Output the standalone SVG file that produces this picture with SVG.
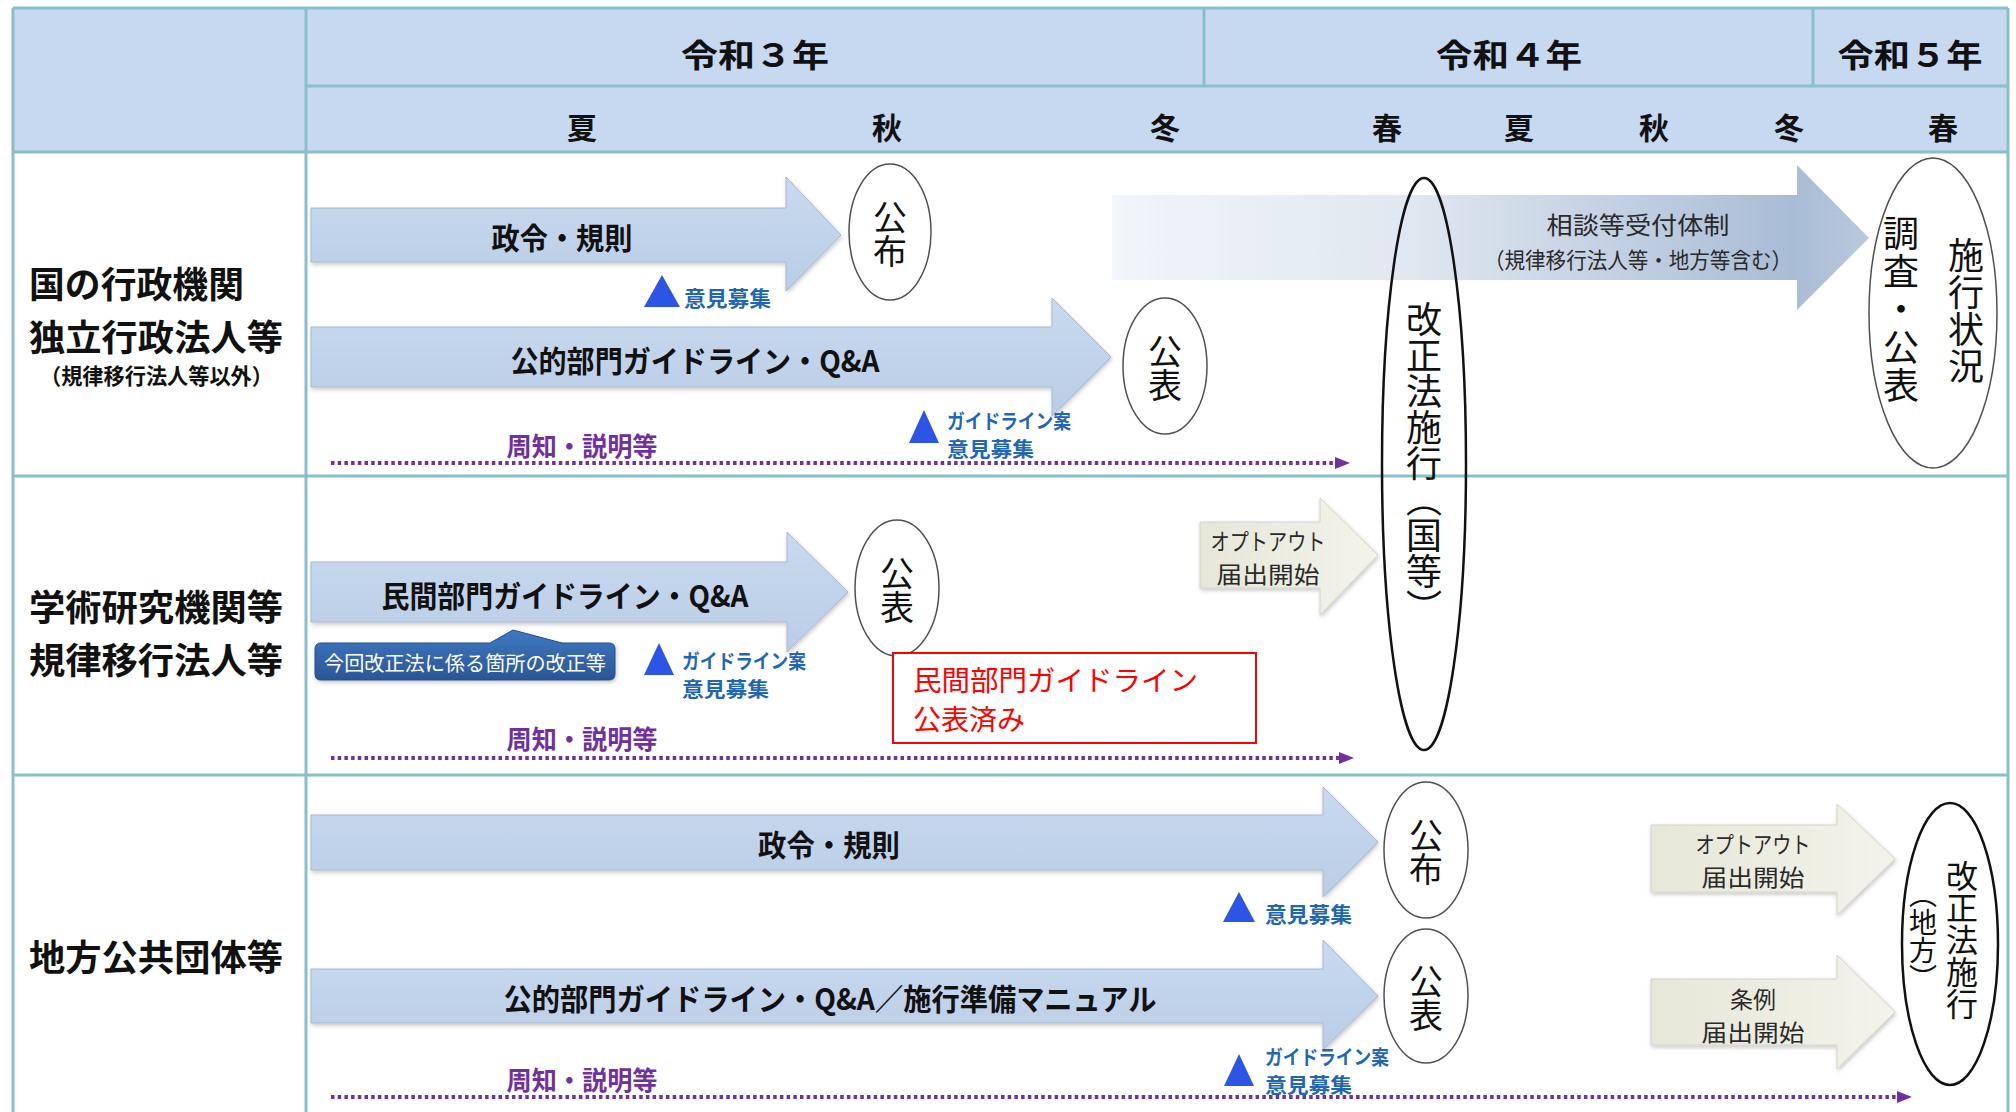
<svg xmlns="http://www.w3.org/2000/svg" width="2016" height="1112" viewBox="0 0 2016 1112">
<defs>
  <linearGradient id="gBlue" x1="0" y1="0" x2="0" y2="1">
    <stop offset="0" stop-color="#c9daef"/>
    <stop offset="1" stop-color="#b9cde6"/>
  </linearGradient>
  <linearGradient id="gBeige" x1="0" y1="0" x2="1" y2="0">
    <stop offset="0" stop-color="#e6e7d8"/>
    <stop offset="1" stop-color="#f3f3ea"/>
  </linearGradient>
  <linearGradient id="gFade" gradientUnits="userSpaceOnUse" x1="1112" y1="0" x2="1869" y2="0">
    <stop offset="0" stop-color="#f2f5fa"/>
    <stop offset="0.4" stop-color="#dfe7f0"/>
    <stop offset="0.9" stop-color="#a9bcd6"/>
    <stop offset="1" stop-color="#b9c9dd"/>
  </linearGradient>
  <linearGradient id="gCall" x1="0" y1="0" x2="0" y2="1">
    <stop offset="0" stop-color="#4079c2"/>
    <stop offset="1" stop-color="#2a5695"/>
  </linearGradient>
  <filter id="sh" x="-5%" y="-20%" width="110%" height="150%">
    <feDropShadow dx="1" dy="2" stdDeviation="2" flood-color="#000" flood-opacity="0.22"/>
  </filter>
  <marker id="mArr" markerUnits="userSpaceOnUse" markerWidth="16" markerHeight="14" refX="1" refY="7" orient="auto">
    <path d="M0,1 L15,7 L0,13 Z" fill="#7030a0"/>
  </marker>
</defs>
<style>
  text { font-family: "Noto Sans CJK JP", "Noto Sans CJK SC", sans-serif; }
  .gl { stroke: #88bfcd; stroke-width: 3; fill: none; }
  .hd { font-size: 32px; font-weight: 700; fill: #111; text-anchor: middle; dominant-baseline: central; }
  .ss { font-size: 30px; font-weight: 700; fill: #111; text-anchor: middle; dominant-baseline: central; }
  .lbl { font-size: 36px; font-weight: 700; fill: #111; dominant-baseline: central; }
  .lbs { font-size: 22px; font-weight: 700; fill: #111; dominant-baseline: central; }
  .al { font-size: 30px; font-weight: 700; fill: #111; text-anchor: middle; dominant-baseline: central; }
  .op { font-size: 21px; font-weight: 700; fill: #1f66b3; dominant-baseline: central; }
  .op2 { font-size: 20px; font-weight: 700; fill: #1f66b3; dominant-baseline: central; }
  .pur { font-size: 26px; font-weight: 700; fill: #7030a0; text-anchor: middle; dominant-baseline: central; }
  .vt { writing-mode: vertical-rl; font-size: 36px; font-weight: 400; fill: #111; text-anchor: middle; }
  .bt { font-size: 23px; fill: #2a2a2a; text-anchor: middle; dominant-baseline: central; }
  .ell { fill: #fff; stroke: #505050; stroke-width: 1.5; }
  .ellb { fill: none; stroke: #111; stroke-width: 2.5; }
  .ba { fill: url(#gBlue); stroke: #a8b8cb; stroke-width: 1; filter: url(#sh); }
  .be { fill: url(#gBeige); stroke: #d3d4c4; stroke-width: 1; filter: url(#sh); }
  .tri { fill: #2c55e6; }
  .dot { fill: none; stroke: #7030a0; stroke-width: 4; stroke-dasharray: 3.5 3.2; }
</style>

<g id="table">
  <rect x="13" y="8" width="1995" height="144" fill="#c6d9f1"/>
  <rect x="13" y="152" width="1995" height="960" fill="#ffffff"/>
  <line class="gl" x1="13" y1="8" x2="2008" y2="8"/>
  <line class="gl" x1="306" y1="86" x2="2008" y2="86"/>
  <line class="gl" x1="13" y1="152" x2="2008" y2="152"/>
  <line class="gl" x1="13" y1="476" x2="2008" y2="476"/>
  <line class="gl" x1="13" y1="775" x2="2008" y2="775"/>
  <line class="gl" x1="13" y1="8" x2="13" y2="1112"/>
  <line class="gl" x1="306" y1="8" x2="306" y2="1112"/>
  <line class="gl" x1="2008" y1="8" x2="2008" y2="1112"/>
  <line class="gl" x1="1204" y1="8" x2="1204" y2="86"/>
  <line class="gl" x1="1813" y1="8" x2="1813" y2="86"/>
</g>

<g id="header">
  <text class="hd" x="755" y="53" textLength="148" lengthAdjust="spacingAndGlyphs">令和３年</text>
  <text class="hd" x="1509" y="53" textLength="146" lengthAdjust="spacingAndGlyphs">令和４年</text>
  <text class="hd" x="1910" y="53" textLength="145" lengthAdjust="spacingAndGlyphs">令和５年</text>
  <text class="ss" x="582" y="126">夏</text>
  <text class="ss" x="887" y="126">秋</text>
  <text class="ss" x="1165" y="126">冬</text>
  <text class="ss" x="1387" y="126">春</text>
  <text class="ss" x="1519" y="126">夏</text>
  <text class="ss" x="1654" y="126">秋</text>
  <text class="ss" x="1789" y="126">冬</text>
  <text class="ss" x="1943" y="126">春</text>
</g>

<g id="row-labels">
  <text class="lbl" x="29" y="282" textLength="215" lengthAdjust="spacingAndGlyphs">国の行政機関</text>
  <text class="lbl" x="29" y="335" textLength="254" lengthAdjust="spacingAndGlyphs">独立行政法人等</text>
  <text class="lbs" x="40" y="374" textLength="233" lengthAdjust="spacingAndGlyphs">（規律移行法人等以外）</text>
  <text class="lbl" x="29" y="605" textLength="254" lengthAdjust="spacingAndGlyphs">学術研究機関等</text>
  <text class="lbl" x="29" y="658" textLength="254" lengthAdjust="spacingAndGlyphs">規律移行法人等</text>
  <text class="lbl" x="29" y="955" textLength="254" lengthAdjust="spacingAndGlyphs">地方公共団体等</text>
</g>

<g id="node-soudan">
  <polygon points="1112,195 1797,195 1797,165 1869,238 1797,310 1797,280 1112,280" fill="url(#gFade)"/>
  <text class="bt" x="1638" y="223" style="font-size:24px" textLength="183" lengthAdjust="spacingAndGlyphs">相談等受付体制</text>
  <text class="bt" x="1638" y="258" style="font-size:22px" textLength="308" lengthAdjust="spacingAndGlyphs">（規律移行法人等・地方等含む）</text>
</g>

<g id="node-r1-seirei">
  <polygon class="ba" points="311,208 786,208 786,177 841,235 786,291 786,262 311,262"/>
  <text class="al" x="562" y="236" textLength="141" lengthAdjust="spacingAndGlyphs">政令・規則</text>
</g>
<g id="node-r1-kofu">
  <ellipse class="ell" cx="890" cy="232" rx="41" ry="68"/>
  <text class="vt" x="890" y="234" style="font-size:34px">公布</text>
</g>
<g id="node-r1-iken">
  <polygon class="tri" points="662,275 680,307 644,307"/>
  <text class="op" x="684" y="297" textLength="87" lengthAdjust="spacingAndGlyphs">意見募集</text>
</g>
<g id="node-r1-guide">
  <polygon class="ba" points="311,327 1052,327 1052,298 1111,357 1052,416 1052,387 311,387"/>
  <text class="al" x="695" y="359" textLength="369" lengthAdjust="spacingAndGlyphs">公的部門ガイドライン・Q&amp;A</text>
</g>
<g id="node-r1-kohyo">
  <ellipse class="ell" cx="1165" cy="366" rx="42" ry="68"/>
  <text class="vt" x="1165" y="368" style="font-size:34px">公表</text>
</g>
<g id="node-r1-guide-iken">
  <polygon class="tri" points="924,410 939,443 909,443"/>
  <text class="op2" x="947" y="420" textLength="124" lengthAdjust="spacingAndGlyphs">ガイドライン案</text>
  <text class="op2" x="947" y="448" textLength="87" lengthAdjust="spacingAndGlyphs">意見募集</text>
</g>
<g id="node-r1-shuchi">
  <text class="pur" x="582" y="444" textLength="151" lengthAdjust="spacingAndGlyphs">周知・説明等</text>
</g>

<g id="node-r2-guide">
  <polygon class="ba" points="311,562 787,562 787,532 848,592 787,652 787,622 311,622"/>
  <text class="al" x="565" y="594" textLength="367" lengthAdjust="spacingAndGlyphs">民間部門ガイドライン・Q&amp;A</text>
</g>
<g id="node-r2-callout">
  <path d="M321,643 L490,643 L513,630 L562,643 L609,643 Q615,643 615,649 L615,674 Q615,680 609,680 L321,680 Q315,680 315,674 L315,649 Q315,643 321,643 Z" fill="url(#gCall)" stroke="#244e88" stroke-width="1" filter="url(#sh)"/>
  <text x="465" y="662" style="font-size:20px;fill:#fff;text-anchor:middle;dominant-baseline:central" textLength="282" lengthAdjust="spacingAndGlyphs">今回改正法に係る箇所の改正等</text>
</g>
<g id="node-r2-kohyo">
  <ellipse class="ell" cx="897" cy="588" rx="42" ry="68"/>
  <text class="vt" x="897" y="590" style="font-size:34px">公表</text>
</g>
<g id="node-r2-guide-iken">
  <polygon class="tri" points="659,643 674,675 644,675"/>
  <text class="op2" x="682" y="660" textLength="124" lengthAdjust="spacingAndGlyphs">ガイドライン案</text>
  <text class="op2" x="682" y="688" textLength="87" lengthAdjust="spacingAndGlyphs">意見募集</text>
</g>
<g id="node-r2-note">
  <rect x="893" y="653" width="363" height="90" fill="#fff" stroke="#ff0000" stroke-width="2"/>
  <text x="913" y="679" style="font-size:28px;fill:#ff0000;dominant-baseline:central" textLength="285" lengthAdjust="spacingAndGlyphs">民間部門ガイドライン</text>
  <text x="913" y="718" style="font-size:28px;fill:#ff0000;dominant-baseline:central">公表済み</text>
</g>
<g id="node-r2-optout">
  <polygon class="be" points="1200,522 1320,522 1320,498 1378,555 1320,615 1320,588 1200,588"/>
  <text class="bt" x="1268" y="540" textLength="115" lengthAdjust="spacingAndGlyphs">オプトアウト</text>
  <text class="bt" x="1268" y="573" textLength="103" lengthAdjust="spacingAndGlyphs">届出開始</text>
</g>
<g id="node-r2-shuchi">
  <text class="pur" x="582" y="737" textLength="151" lengthAdjust="spacingAndGlyphs">周知・説明等</text>
</g>

<g id="node-r3-seirei">
  <polygon class="ba" points="311,815 1323,815 1323,787 1378,842 1323,897 1323,870 311,870"/>
  <text class="al" x="829" y="843" textLength="142" lengthAdjust="spacingAndGlyphs">政令・規則</text>
</g>
<g id="node-r3-kofu">
  <ellipse class="ell" cx="1426" cy="850" rx="42" ry="68"/>
  <text class="vt" x="1426" y="852" style="font-size:34px">公布</text>
</g>
<g id="node-r3-iken">
  <polygon class="tri" points="1239,892 1255,922 1223,922"/>
  <text class="op" x="1265" y="913" textLength="87" lengthAdjust="spacingAndGlyphs">意見募集</text>
</g>
<g id="node-r3-guide">
  <polygon class="ba" points="311,969 1323,969 1323,940 1378,996 1323,1050 1323,1023 311,1023"/>
  <text class="al" x="830" y="997" textLength="653" lengthAdjust="spacingAndGlyphs">公的部門ガイドライン・Q&amp;A／施行準備マニュアル</text>
</g>
<g id="node-r3-kohyo">
  <ellipse class="ell" cx="1426" cy="996" rx="42" ry="67"/>
  <text class="vt" x="1426" y="998" style="font-size:34px">公表</text>
</g>
<g id="node-r3-guide-iken">
  <polygon class="tri" points="1239,1054 1254,1086 1224,1086"/>
  <text class="op2" x="1265" y="1056" textLength="124" lengthAdjust="spacingAndGlyphs">ガイドライン案</text>
  <text class="op2" x="1265" y="1084" textLength="87" lengthAdjust="spacingAndGlyphs">意見募集</text>
</g>
<g id="node-r3-shuchi">
  <text class="pur" x="582" y="1078" textLength="151" lengthAdjust="spacingAndGlyphs">周知・説明等</text>
</g>
<g id="node-r3-optout">
  <polygon class="be" points="1651,825 1837,825 1837,804 1895,859 1837,915 1837,892 1651,892"/>
  <text class="bt" x="1753" y="843" textLength="115" lengthAdjust="spacingAndGlyphs">オプトアウト</text>
  <text class="bt" x="1753" y="876" textLength="103" lengthAdjust="spacingAndGlyphs">届出開始</text>
</g>
<g id="node-r3-jorei">
  <polygon class="be" points="1651,979 1837,979 1837,955 1895,1012 1837,1069 1837,1045 1651,1045"/>
  <text class="bt" x="1753" y="998">条例</text>
  <text class="bt" x="1753" y="1031" textLength="103" lengthAdjust="spacingAndGlyphs">届出開始</text>
</g>

<g id="node-sekou-kuni">
  <ellipse class="ellb" cx="1424" cy="464" rx="42" ry="286"/>
  <text class="vt" x="1424" y="463">改正法施行（国等）</text>
</g>
<g id="node-chosa">
  <ellipse class="ell" cx="1933" cy="313" rx="64" ry="155"/>
  <text class="vt" x="1966" y="311" style="letter-spacing:1px">施行状況</text>
  <text class="vt" x="1901" y="310" style="letter-spacing:2px">調査・公表</text>
</g>
<g id="node-sekou-chiho">
  <ellipse class="ellb" cx="1950" cy="944" rx="48" ry="141" style="fill:#fff"/>
  <text class="vt" x="1962" y="940" style="font-size:32px">改正法施行</text>
  <text class="vt" x="1923" y="936" style="font-size:28px">（地方）</text>
</g>

<g id="connectors">
  <line class="dot" x1="331" y1="463" x2="1336" y2="463" marker-end="url(#mArr)"/>
  <line class="dot" x1="331" y1="758" x2="1340" y2="758" marker-end="url(#mArr)"/>
  <line class="dot" x1="331" y1="1097" x2="1898" y2="1097" marker-end="url(#mArr)"/>
</g>
</svg>
